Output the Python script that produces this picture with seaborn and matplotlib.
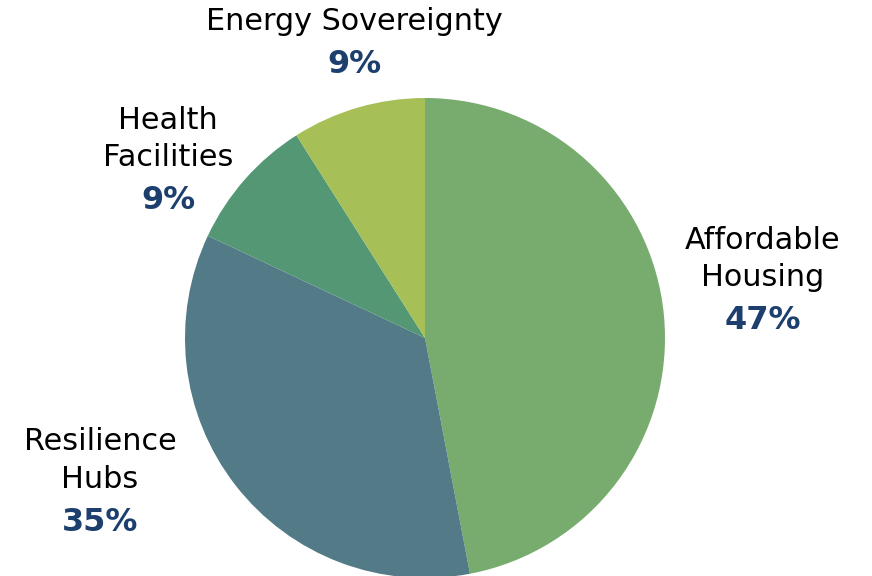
import matplotlib
matplotlib.use("Agg")
import matplotlib.pyplot as plt
import seaborn as sns

# slice data, clockwise from 12 o'clock
categories = ["Affordable Housing", "Resilience Hubs", "Health Facilities", "Energy Sovereignty"]
shares = [47, 35, 9, 9]
label_lines = [["Affordable", "Housing"], ["Resilience", "Hubs"], ["Health", "Facilities"], ["Energy Sovereignty"]]
slice_colors = ["#78AC6E", "#527A87", "#549774", "#A7BF57"]

# label block anchor (x, y of first line) in pie units
label_pos = [(1.408, 0.408), (-1.354, -0.433), (-1.07, 0.908), (-0.296, 1.317)]

sns.set_theme(style="white")
plt.rcParams["font.family"] = ["DejaVu Sans"]

fig = plt.figure(figsize=(8.72, 5.76), dpi=100)
ax = fig.add_axes([0, 0, 1, 1])

palette = sns.color_palette(slice_colors)
ax.pie(shares, colors=palette, startangle=90, counterclock=False,
       wedgeprops=dict(linewidth=0))

line_gap = 0.158
for lines, share, (x, y) in zip(label_lines, shares, label_pos):
    for i, line in enumerate(lines):
        ax.text(x, y - i * line_gap, line, ha="center", va="center",
                fontsize=21.8, color="black")
    pct_y = y - len(lines) * line_gap - 0.02
    ax.text(x, pct_y, f"{share}%", ha="center", va="center",
            fontsize=23, fontweight="bold", color="#1D3F6E")

ax.set_xlim(-425 / 240, 447 / 240)
ax.set_ylim(-238 / 240, 338 / 240)
ax.set_aspect("auto")
ax.axis("off")

plt.savefig("out.png", dpi=100)
plt.close()
